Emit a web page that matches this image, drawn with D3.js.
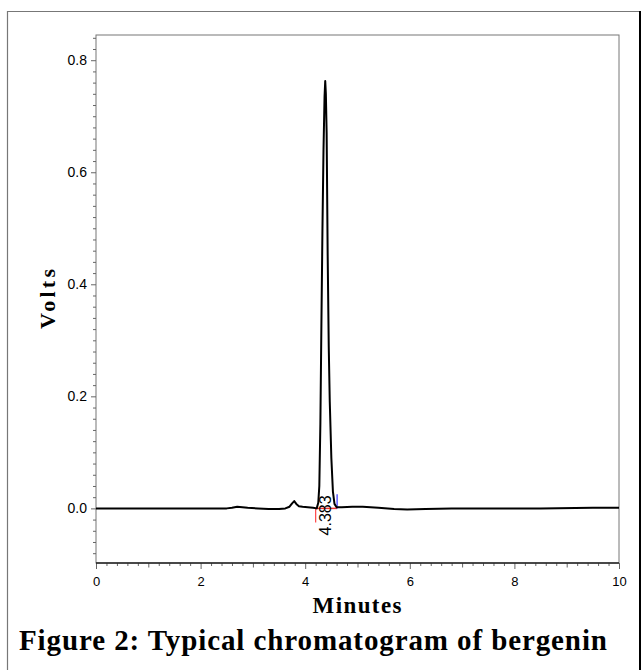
<!DOCTYPE html>
<html>
<head>
<meta charset="utf-8">
<script src="https://cdn.jsdelivr.net/npm/d3@7"></script>
<style>
  body { margin: 0; background: #fff; }
  svg { display: block; }
</style>
</head>
<body>
<script>
// chromatogram trace (minutes, volts)
const times = [0, 1, 2, 2.5, 2.6, 2.7, 2.8, 2.9, 3.1, 3.3, 3.5, 3.62, 3.7, 3.75, 3.79, 3.83, 3.88, 3.95, 4.05, 4.15,
  4.22, 4.25, 4.27, 4.29, 4.31, 4.33, 4.35, 4.37, 4.383, 4.395, 4.41, 4.43, 4.45, 4.47, 4.5, 4.53, 4.56, 4.6,
  4.7, 4.9, 5.1, 5.4, 5.7, 5.95, 6.3, 6.8, 7.5, 8.5, 9.5, 10];
const volts = [0, 0, 0, 0, 0.001, 0.003, 0.002, 0.001, 0, -0.001, -0.001, 0, 0.003, 0.009, 0.013, 0.008, 0.004, 0.003, 0.002, 0.001,
  0, 0.01, 0.04, 0.15, 0.33, 0.5, 0.64, 0.735, 0.763, 0.74, 0.67, 0.45, 0.29, 0.19, 0.09, 0.03, 0.008, 0.002,
  0.002, 0.003, 0.003, 0.001, -0.001, -0.002, -0.001, 0, 0, 0, 0.001, 0.001];

const peakTime = 4.383;
const peakStart = 4.2;
const peakEnd = 4.61;

const xMajor = [0, 2, 4, 6, 8, 10];
const yMajor = [0, 0.2, 0.4, 0.6, 0.8];

const width = 641;
const height = 670;

const x = d3.scaleLinear().domain([0, 10]).range([96, 619]);
const y = d3.scaleLinear().domain([-0.0975, 0.845]).range([563, 35]);

const svg = d3.select('body').append('svg')
  .attr('width', width)
  .attr('height', height);

// outer figure frame
svg.append('line').attr('x1', 7.5).attr('x2', 7.5).attr('y1', 11).attr('y2', height)
  .attr('stroke', '#777').attr('stroke-width', 1.2);
svg.append('line').attr('x1', 7).attr('x2', 640).attr('y1', 11.5).attr('y2', 11.5)
  .attr('stroke', '#777').attr('stroke-width', 1.2);
svg.append('line').attr('x1', 640).attr('x2', 640).attr('y1', 11).attr('y2', height)
  .attr('stroke', '#000').attr('stroke-width', 2);

// plot box
svg.append('rect')
  .attr('x', x(0)).attr('y', y.range()[1])
  .attr('width', x(10) - x(0)).attr('height', y.range()[0] - y.range()[1])
  .attr('fill', 'none').attr('stroke', '#777').attr('stroke-width', 1);

// minor tick lists
const yMinor = d3.range(-4, 43).map((i) => i * 0.02).filter((v) => Math.abs(v * 5 - Math.round(v * 5)) > 1e-6);
const xMinor = d3.range(0, 51).map((i) => i * 0.2).filter((v) => Math.abs(v - Math.round(v)) > 1e-6);
const xMid = [1, 3, 5, 7, 9];

function styleAxis(g) {
  g.select('.domain').remove();
  g.selectAll('.tick line').attr('stroke', '#666');
  g.selectAll('.tick text')
    .attr('fill', '#000')
    .style('font-family', '"Liberation Sans", Arial, sans-serif');
}

// y axis
svg.append('g').attr('transform', `translate(${x(0)},0)`)
  .call(d3.axisLeft(y).tickValues(yMinor).tickSize(3).tickFormat(''))
  .call(styleAxis);
svg.append('g').attr('transform', `translate(${x(0)},0)`)
  .call(d3.axisLeft(y).tickValues(yMajor).tickSize(5).tickPadding(4).tickFormat(d3.format('.1f')))
  .call(styleAxis)
  .call((g) => g.selectAll('.tick text').style('font-size', '14px'));

// x axis
const xg = (vals, size) => svg.append('g').attr('transform', `translate(0,${y.range()[0]})`)
  .call(d3.axisBottom(x).tickValues(vals).tickSize(size).tickFormat(''))
  .call(styleAxis);
xg(xMinor, 3);
xg(xMid, 4.5);
svg.append('g').attr('transform', `translate(0,${y.range()[0]})`)
  .call(d3.axisBottom(x).tickValues(xMajor).tickSize(6).tickPadding(8).tickFormat(d3.format('d')))
  .call(styleAxis)
  .call((g) => g.selectAll('.tick text').style('font-size', '13px'));
svg.append('line')
  .attr('x1', x(0)).attr('x2', x(10))
  .attr('y1', y.range()[0]).attr('y2', y.range()[0])
  .attr('stroke', '#222').attr('stroke-width', 1.5);

// peak integration marks
svg.append('line')
  .attr('x1', x(peakStart)).attr('x2', x(peakEnd))
  .attr('y1', y(0)).attr('y2', y(0))
  .attr('stroke', '#e33').attr('stroke-width', 1.5);
svg.append('line')
  .attr('x1', x(peakStart)).attr('x2', x(peakStart))
  .attr('y1', y(0)).attr('y2', y(-0.025))
  .attr('stroke', '#f44').attr('stroke-width', 1.2);
svg.append('line')
  .attr('x1', x(peakEnd)).attr('x2', x(peakEnd))
  .attr('y1', y(0)).attr('y2', y(0.025))
  .attr('stroke', '#33f').attr('stroke-width', 1.2);

// trace
const line = d3.line()
  .x((d, i) => x(times[i]))
  .y((d) => y(d));
svg.append('path')
  .datum(volts)
  .attr('d', line)
  .attr('fill', 'none')
  .attr('stroke', '#000')
  .attr('stroke-width', 2)
  .attr('stroke-linejoin', 'round');

// retention time label
svg.append('text')
  .attr('transform', `translate(${x(peakTime) + 6},${y(0) + 27}) rotate(-90)`)
  .attr('text-anchor', 'start')
  .style('font-family', '"Liberation Sans", Arial, sans-serif')
  .style('font-size', '16px')
  .text(peakTime.toFixed(3));

// axis titles and caption
const serif = '"Liberation Serif", "Times New Roman", serif';
svg.append('text')
  .attr('transform', 'translate(55,299) rotate(-90)')
  .attr('text-anchor', 'middle')
  .attr('textLength', 60)
  .style('font-family', serif).style('font-weight', 'bold').style('font-size', '22px')
  .text('Volts');
svg.append('text')
  .attr('x', 357).attr('y', 613)
  .attr('text-anchor', 'middle')
  .attr('textLength', 89)
  .style('font-family', serif).style('font-weight', 'bold').style('font-size', '23px')
  .text('Minutes');
svg.append('text')
  .attr('x', 313).attr('y', 650)
  .attr('text-anchor', 'middle')
  .attr('textLength', 588)
  .style('font-family', serif).style('font-weight', 'bold').style('font-size', '29px')
  .text('Figure 2: Typical chromatogram of bergenin');
</script>
</body>
</html>
